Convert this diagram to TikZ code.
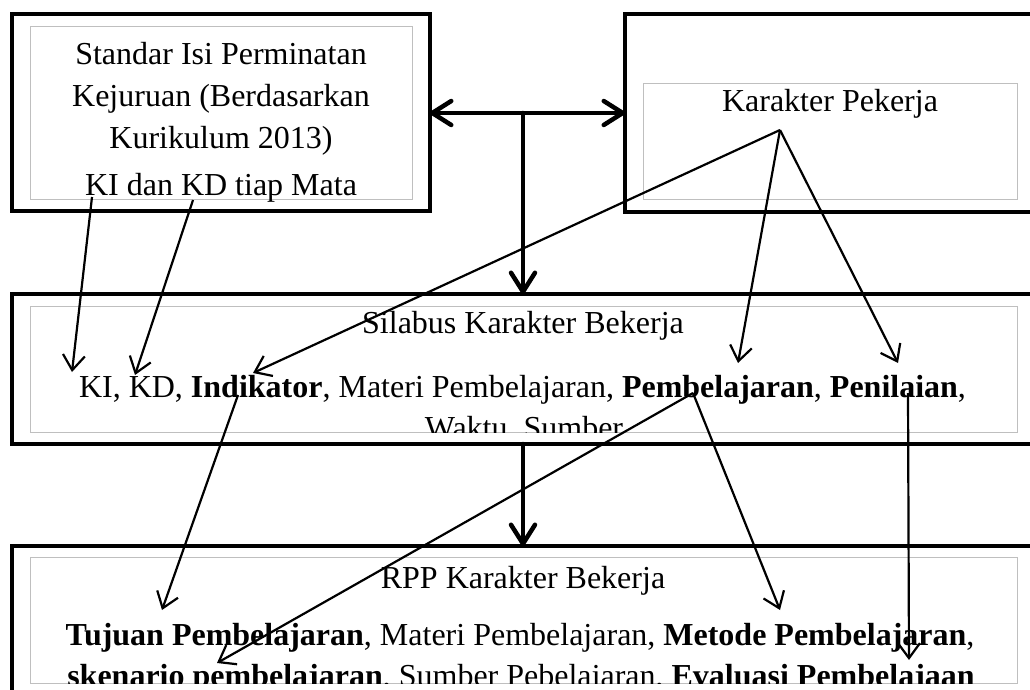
\documentclass[tikz,border=0pt]{standalone}
\usepackage{fontspec}
\setmainfont{Liberation Serif}
\usetikzlibrary{arrows.meta}

\begin{document}
\begin{tikzpicture}[x=1pt,y=-1pt,
  outer/.style={draw,line width=4.5pt,outer sep=0pt,inner sep=0pt},
  inner/.style={draw=black!25,line width=0.9pt},
  txt/.style={font=\fontsize{32}{41.5}\selectfont,anchor=base,inner sep=0pt},
  big/.style={line width=4.5pt,line cap=round,>={Straight Barb[round,length=19pt,width=24pt]}},
  thin/.style={line width=2.2pt,->,>={Straight Barb[length=15pt,width=22pt]}}]

  \useasboundingbox (0,0) rectangle (1030,690);

  \node[outer,minimum width=418pt,minimum height=197pt] (sis) at (221,112.5) {};
\node[outer,minimum width=435pt,minimum height=198pt] (kp) at (842.5,113) {};
\node[outer,minimum width=1048pt,minimum height=150pt] (sil) at (536,369) {};
\node[outer,minimum width=1048pt,minimum height=174pt] (rpp) at (536,633) {};

  \draw[inner] (30,26) rectangle (412,199);
  \draw[inner] (643,83) rectangle (1017,199);
  \draw[inner] (30,306) rectangle (1017,432);
  \draw[inner] (30,557) rectangle (1017,683);

  \node[txt] (sis1) at (221,65) {Standar Isi Perminatan};
  \node[txt] (sis2) at (221,107) {Kejuruan (Berdasarkan};
  \node[txt] (sis3) at (221,148) {Kurikulum 2013)};
  \node[txt] (sis4) at (221,195) {KI dan KD tiap Mata};

  \node[txt] (kp1) at (830,112) {Karakter Pekerja};

  \begin{scope}
    \clip (30,306) rectangle (1017,432);
    \node[txt] (sil1) at (523,333) {Silabus Karakter Bekerja};
    \node[txt] (sil2) at (522.5,397) {KI, KD, \textbf{Indikator}, Materi Pembelajaran, \textbf{Pembelajaran}, \textbf{Penilaian},};
    \node[txt] (sil3) at (524,438) {Waktu, Sumber};
  \end{scope}

  \begin{scope}
    \clip (30,557) rectangle (1017,683);
    \node[txt] (rpp1) at (523,588) {RPP Karakter Bekerja};
    \node[txt] (rpp2) at (520,645) {\textbf{Tujuan Pembelajaran}, Materi Pembelajaran, \textbf{Metode Pembelajaran},};
    \node[txt] (rpp3) at (521,686) {\textbf{skenario pembelajaran}, Sumber Pebelajaran, \textbf{Evaluasi Pembelajaan}};
  \end{scope}

  \coordinate (hub) at (523,113);
  \draw[big,<->] (sis.east |- hub) -- (kp.west |- hub);
  \draw[big,->] (hub) -- (sil.north -| hub);
  \draw[big,->] (sil.south -| hub) -- (rpp.north -| hub);

  \coordinate (ki) at (92,197);
  \coordinate (kd) at (193,200);
  \coordinate (kpp) at (780,130);
  \coordinate (ind) at (238,395);
  \coordinate (pemb) at (693,393);
  \coordinate (pen) at (908,393);
  \coordinate (silki) at (72,372);
  \coordinate (silkd) at (135,375);
  \coordinate (silind) at (253,373);
  \coordinate (silpemb) at (738,363);
  \coordinate (silpen) at (898,363);
  \coordinate (tuj) at (162,610);
  \coordinate (sken) at (217,663);
  \coordinate (met) at (780,610);
  \coordinate (eval) at (909,660);

  \draw[thin] (ki) -- (silki);
  \draw[thin] (kd) -- (silkd);
  \draw[thin] (kpp) -- (silind);
  \draw[thin] (kpp) -- (silpemb);
  \draw[thin] (kpp) -- (silpen);
  \draw[thin] (ind) -- (tuj);
  \draw[thin] (pemb) -- (sken);
  \draw[thin] (pemb) -- (met);
  \draw[thin] (pen) -- (eval);

\end{tikzpicture}
\end{document}
